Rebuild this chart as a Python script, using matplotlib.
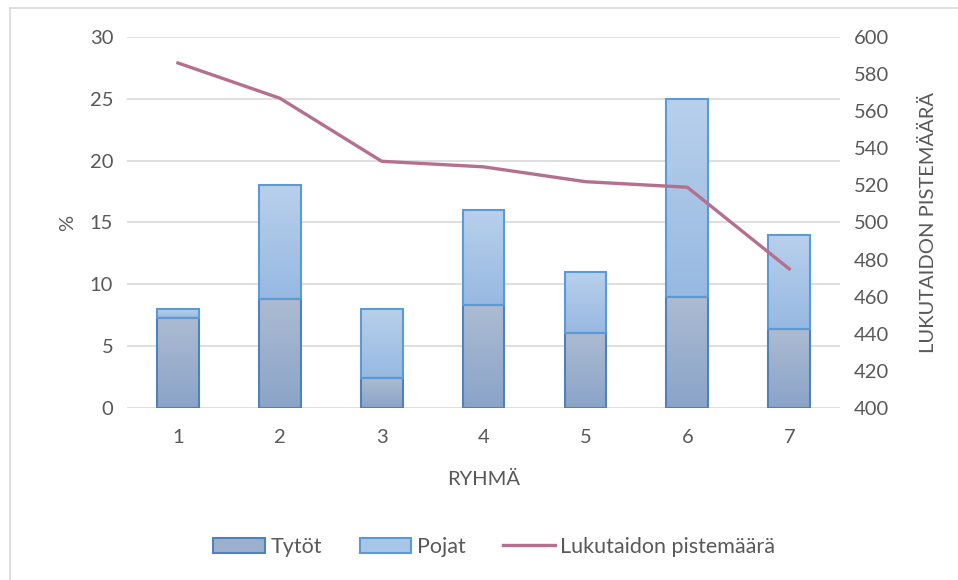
import numpy as np
import matplotlib.pyplot as plt
from matplotlib.colors import LinearSegmentedColormap
from matplotlib.lines import Line2D
from matplotlib.patches import Patch

plt.rcParams['font.family'] = ['Lato', 'DejaVu Sans']

ryhmat = ['1', '2', '3', '4', '5', '6', '7']
tytot = [7.3, 8.8, 2.4, 8.3, 6.1, 9.0, 6.4]
pojat = [0.7, 9.2, 5.6, 7.7, 4.9, 16.0, 7.6]
pistemaara = [586, 567, 533, 530, 522, 519, 475]

text_col = '#595959'
grid_col = '#d9d9d9'
fs = 14.5


def gradient_fill(ax, bars, top_col, bottom_col):
    cmap = LinearSegmentedColormap.from_list('g', [bottom_col, top_col])
    grad = np.linspace(0, 1, 64).reshape(-1, 1)
    for b in bars:
        x0, y0 = b.get_x(), b.get_y()
        w, h = b.get_width(), b.get_height()
        b.set_facecolor('none')
        im = ax.imshow(grad, cmap=cmap, origin='lower', aspect='auto',
                       extent=[x0, x0 + w, y0, y0 + h], zorder=2)
        im.set_clip_path(b)


fig = plt.figure(figsize=(9.58, 5.80), dpi=100)
ax = fig.add_axes([0.1326, 0.2966, 0.7444, 0.6396])

x = np.arange(1, len(ryhmat) + 1)
w = 0.41
b1 = ax.bar(x, tytot, w, edgecolor='#4f81bd', linewidth=1.5, zorder=3, label='Tytöt')
b2 = ax.bar(x, pojat, w, bottom=tytot, edgecolor='#5b9bd5', linewidth=1.5, zorder=3, label='Pojat')
gradient_fill(ax, b1, '#acbbd2', '#8aa4c8')
gradient_fill(ax, b2, '#b8d0eb', '#97b9e2')

ax.set_xlim(0.5, 7.5)
ax.set_ylim(0, 30)
ax.set_yticks(range(0, 31, 5))
ax.set_xticks(x)
ax.set_xticklabels(ryhmat)
ax.yaxis.grid(True, color=grid_col, linewidth=1.2)
ax.set_axisbelow(True)
for s in ax.spines.values():
    s.set_visible(False)
ax.tick_params(length=0, labelsize=fs, colors=text_col, pad=10)
ax.tick_params(axis='x', pad=15)
ax.set_ylabel('%', fontsize=fs, color=text_col, labelpad=10)
ax.set_xlabel('RYHMÄ', fontsize=fs, color=text_col, labelpad=18)

ax2 = ax.twinx()
ax2.plot(x, pistemaara, color='#b6708f', linewidth=2.4, zorder=5)
ax2.set_ylim(400, 600)
ax2.set_yticks(range(400, 601, 20))
for s in ax2.spines.values():
    s.set_visible(False)
ax2.tick_params(length=0, labelsize=fs, colors=text_col, pad=10)
ax2.set_ylabel('LUKUTAIDON PISTEMÄÄRÄ', fontsize=fs, color=text_col, labelpad=22)

handles = [
    Patch(facecolor='#9cb0cd', edgecolor='#4f81bd', linewidth=1.5),
    Patch(facecolor='#a8c6e8', edgecolor='#5b9bd5', linewidth=1.5),
    Line2D([], [], color='#b6708f', linewidth=2.4),
]
leg = fig.legend(handles, ['Tytöt', 'Pojat', 'Lukutaidon pistemäärä'],
                 loc='center', bbox_to_anchor=(0.516, 0.057), ncol=3, frameon=False,
                 fontsize=15.5, handlelength=2.4, handletextpad=0.25, columnspacing=1.75)
for t in leg.get_texts():
    t.set_color(text_col)

# chart area border (left and top edges)
fig.add_artist(Line2D([10 / 958, 10 / 958], [0, 1 - 8 / 580], transform=fig.transFigure,
                      color=grid_col, linewidth=1.2))
fig.add_artist(Line2D([10 / 958, 1], [1 - 8 / 580, 1 - 8 / 580], transform=fig.transFigure,
                      color=grid_col, linewidth=1.2))

fig.savefig('out.png', dpi=100)
